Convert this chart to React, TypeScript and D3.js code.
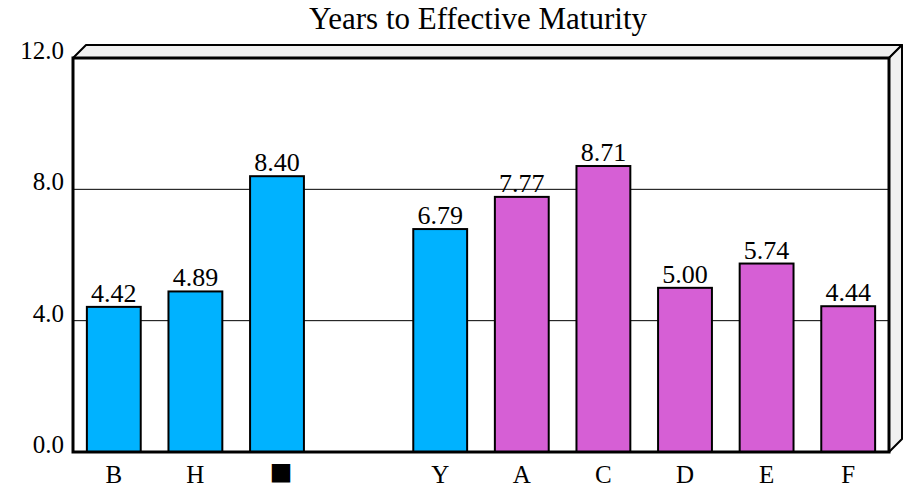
import React from "react";
import * as d3 from "d3";

const categories = ["B", "H", "■", "", "Y", "A", "C", "D", "E", "F"];
const values = [4.42, 4.89, 8.4, 0, 6.79, 7.77, 8.71, 5.0, 5.74, 4.44];
const groups = ["blue", "blue", "blue", "none", "blue", "pink", "pink", "pink", "pink", "pink"];
const yTicks = [0, 4, 8, 12];
const title = "Years to Effective Maturity";

const W = 903;
const H = 488;
const left = 73;
const right = 889;
const top = 58;
const bottom = 452;
const depth = 13;
const font = "Liberation Serif";
const colors: Record<string, string> = { blue: "#00B2FF", pink: "#D65FD5", none: "#ffffff" };

export default function App() {
  const x = d3.scaleBand<number>().domain(d3.range(categories.length)).range([left, right]).paddingInner(0.34).paddingOuter(0.17);
  const y = d3.scaleLinear().domain([0, 12]).range([bottom, top]);

  const topFace = `M${left},${top} L${left + depth},${top - depth} L${right + depth},${top - depth} L${right},${top} Z`;
  const rightFace = `M${right},${top} L${right + depth},${top - depth} L${right + depth},${bottom - depth} L${right},${bottom} Z`;
  const ts = { fontFamily: font };
  const sq = { fontFamily: "Noto Sans CJK JP" };

  return (
    <svg width={W} height={H} style={{ position: "absolute", left: 0, top: 0, background: "#fff" }}>
      <text x={478} y={29} textAnchor="middle" style={ts} fontSize={31} fill="#000">{title}</text>
      <path d={topFace} fill="#f0f0f0" stroke="#000" strokeWidth={2} strokeLinejoin="round" />
      <path d={rightFace} fill="#f0f0f0" stroke="#000" strokeWidth={2} strokeLinejoin="round" />
      <rect x={left} y={top} width={right - left} height={bottom - top} fill="#fff" />
      {yTicks.filter((t) => t > 0 && t < 12).map((t) => (
        <line key={t} x1={left} x2={right} y1={y(t)} y2={y(t)} stroke="#000" strokeWidth={1} />
      ))}
      {values.map((v, i) => (
        <rect key={i} x={x(i)!} y={y(v)} width={x.bandwidth()} height={bottom - y(v)}
          fill={colors[groups[i]]} stroke="#000" strokeWidth={2} />
      ))}
      <rect x={left} y={top} width={right - left} height={bottom - top} fill="none" stroke="#000" strokeWidth={3} />
      {values.map((v, i) => groups[i] === "none" ? null : (
        <text key={"l" + i} x={x(i)! + x.bandwidth() / 2} y={y(v) - 5} textAnchor="middle" style={ts} fontSize={26} fill="#000">
          {v.toFixed(2)}
        </text>
      ))}
      {yTicks.map((t) => (
        <text key={"t" + t} x={64} y={y(t) + 1} textAnchor="end" style={ts} fontSize={25} fill="#000">{t.toFixed(1)}</text>
      ))}
      {categories.map((c, i) => c === "■" ? (
        <text key={"c" + i} x={x(i)! + x.bandwidth() / 2 + 4} y={482} textAnchor="middle" style={sq} fontSize={23} fill="#000">{c}</text>
      ) : (
        <text key={"c" + i} x={x(i)! + x.bandwidth() / 2} y={483} textAnchor="middle" style={ts} fontSize={25} fill="#000">{c}</text>
      ))}
    </svg>
  );
}
